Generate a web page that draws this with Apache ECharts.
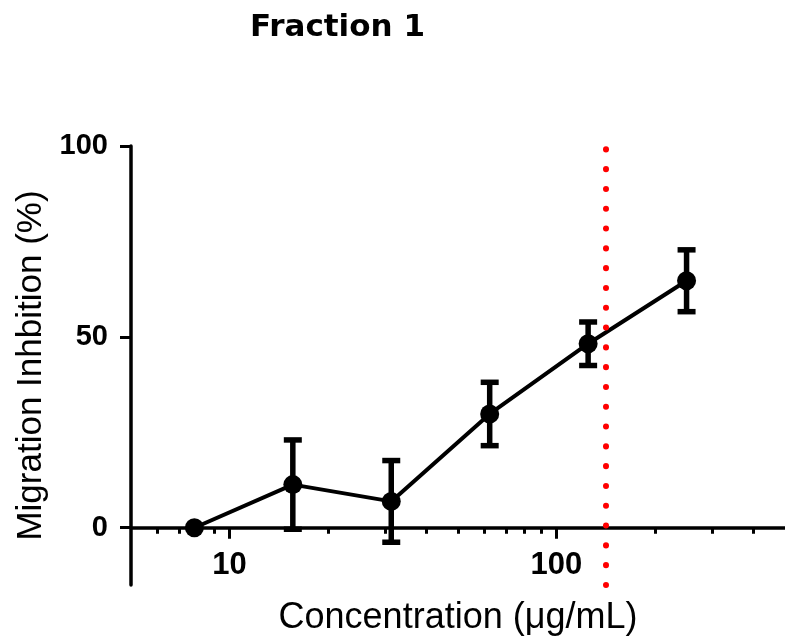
<!DOCTYPE html>
<html>
<head>
<meta charset="utf-8">
<script src="https://cdn.jsdelivr.net/npm/echarts@6/dist/echarts.min.js"></script>
<style>
html,body{margin:0;padding:0;background:#fff;}
#main{width:785px;height:637px;}
</style>
</head>
<body>
<div id="main"></div>
<script>
// Data
const concentrations = [7.8125, 15.625, 31.25, 62.5, 125, 250];
const inhibitionMean = [0, 11.3, 6.9, 29.8, 48.2, 64.7];
const inhibitionErr  = [0, 11.7, 10.7, 8.3, 5.7, 8.1];
const ic50Line = [142];
const xMajorTicks = [10, 100];
const xMinorTicks = [6, 7, 8, 9, 20, 30, 40, 50, 60, 70, 80, 90, 200, 300, 400];
const yTicks = [0, 50, 100];
const yMin = -15, yMax = 100;

const lineData = concentrations.map((c, i) => [c, inhibitionMean[i]]);
const errData = concentrations
  .map((c, i) => [c, inhibitionMean[i] - inhibitionErr[i], inhibitionMean[i] + inhibitionErr[i], inhibitionErr[i]])
  .filter(d => d[3] > 0);

const GRID_TOP = 146, GRID_BOTTOM = 52, H = 637;
const gridH = H - GRID_TOP - GRID_BOTTOM;
// shift the x axis up so it sits on y = 0
const zeroOffset = -gridH * (0 - yMin) / (yMax - yMin);

const chart = echarts.init(document.getElementById('main'), null, {renderer: 'canvas'});
const AX = 'Liberation Sans, Arial, sans-serif';

chart.setOption({
  animation: false,
  backgroundColor: '#fff',
  title: {
    text: 'Fraction 1',
    left: 245, top: 7,
    textStyle: {fontFamily: 'DejaVu Sans', fontWeight: 'bold', fontSize: 31, color: '#000'}
  },
  grid: {left: 131, right: 0, top: GRID_TOP, bottom: GRID_BOTTOM, containLabel: false, outerBoundsMode: 'none'},
  xAxis: [{
    type: 'log', logBase: 10, min: 5, max: 500,
    position: 'bottom', offset: zeroOffset,
    name: 'Concentration (μg/mL)', nameLocation: 'middle', nameGap: 72,
    nameTextStyle: {fontFamily: AX, fontSize: 36, color: '#000'},
    axisLine: {onZero: false, lineStyle: {color: '#000', width: 3.5}},
    axisTick: {show: true, inside: false, length: 11, customValues: xMajorTicks, lineStyle: {color: '#000', width: 3}},
    axisLabel: {customValues: xMajorTicks, margin: 22, fontFamily: AX, fontWeight: 'bold', fontSize: 31, color: '#000'},
    splitLine: {show: false}, minorTick: {show: false}
  }, {
    type: 'log', logBase: 10, min: 5, max: 500,
    position: 'bottom', offset: zeroOffset,
    axisLine: {show: false, onZero: false},
    axisTick: {show: true, inside: false, length: 6, customValues: xMinorTicks, lineStyle: {color: '#000', width: 3}},
    axisLabel: {show: false},
    splitLine: {show: false}
  }],
  yAxis: {
    type: 'value', min: yMin, max: yMax,
    name: 'Migration Inhbition (%)', nameLocation: 'middle', nameGap: 75,
    nameTextStyle: {fontFamily: AX, fontSize: 35, color: '#000'},
    axisLine: {show: true, onZero: false, lineStyle: {color: '#000', width: 3.5}},
    axisTick: {show: true, inside: false, length: 11, customValues: yTicks, lineStyle: {color: '#000', width: 3}},
    axisLabel: {customValues: yTicks, margin: 23, fontFamily: AX, fontWeight: 'bold', fontSize: 29, color: '#000'},
    splitLine: {show: false}
  },
  series: [{
    type: 'custom',
    xAxisIndex: 0,
    data: errData,
    encode: {x: 0, y: [1, 2]},
    z: 3,
    renderItem: function (params, api) {
      const x = api.value(0);
      const top = api.coord([x, api.value(2)]);
      const bot = api.coord([x, api.value(1)]);
      const hw = 9;
      const st = {stroke: '#000', lineWidth: 5.5};
      return {type: 'group', children: [
        {type: 'line', shape: {x1: top[0], y1: top[1], x2: bot[0], y2: bot[1]}, style: st},
        {type: 'line', shape: {x1: top[0] - hw, y1: top[1], x2: top[0] + hw, y2: top[1]}, style: st},
        {type: 'line', shape: {x1: bot[0] - hw, y1: bot[1], x2: bot[0] + hw, y2: bot[1]}, style: st}
      ]};
    }
  }, {
    type: 'line',
    xAxisIndex: 0,
    data: lineData,
    symbol: 'circle', symbolSize: 19,
    itemStyle: {color: '#000'},
    lineStyle: {color: '#000', width: 4},
    z: 4,
    markLine: {
      silent: true, symbol: 'none',
      label: {show: false},
      lineStyle: {color: '#ff0000', width: 6, type: [0.1, 19.7], cap: 'round'},
      data: ic50Line.map(v => ({xAxis: v}))
    }
  }]
});
</script>
</body>
</html>
